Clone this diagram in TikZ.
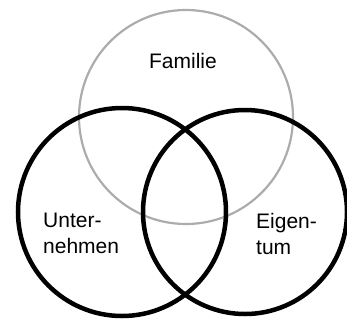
\documentclass[tikz,border=0pt]{standalone}
\usepackage{fontspec}
\setmainfont{Liberation Sans}
\usepackage{tikz}

\begin{document}
\begin{tikzpicture}[x=1pt,y=-1pt,
  ring/.style={line width=4.5pt,black},
  grayring/.style={line width=2.2pt,gray!65},
  lbl/.style={inner sep=0pt,anchor=north west,align=left,font=\fontsize{21}{26}\selectfont}]
\useasboundingbox (0,0) rectangle (347,327);
\coordinate (fam) at (186,117);
\coordinate (unt) at (122,212);
\coordinate (eig) at (245,212);
\draw[grayring] (fam) circle (107);
\draw[ring] (unt) circle (104);
\draw[ring] (eig) circle (102);
\node[lbl,anchor=base] (familie) at (183,68) {Familie};
\node[lbl] (unternehmen) at (43,213) {Unter-\\nehmen};
\node[lbl] (eigentum) at (256,213) {Eigen-\\tum};
\end{tikzpicture}
\end{document}
